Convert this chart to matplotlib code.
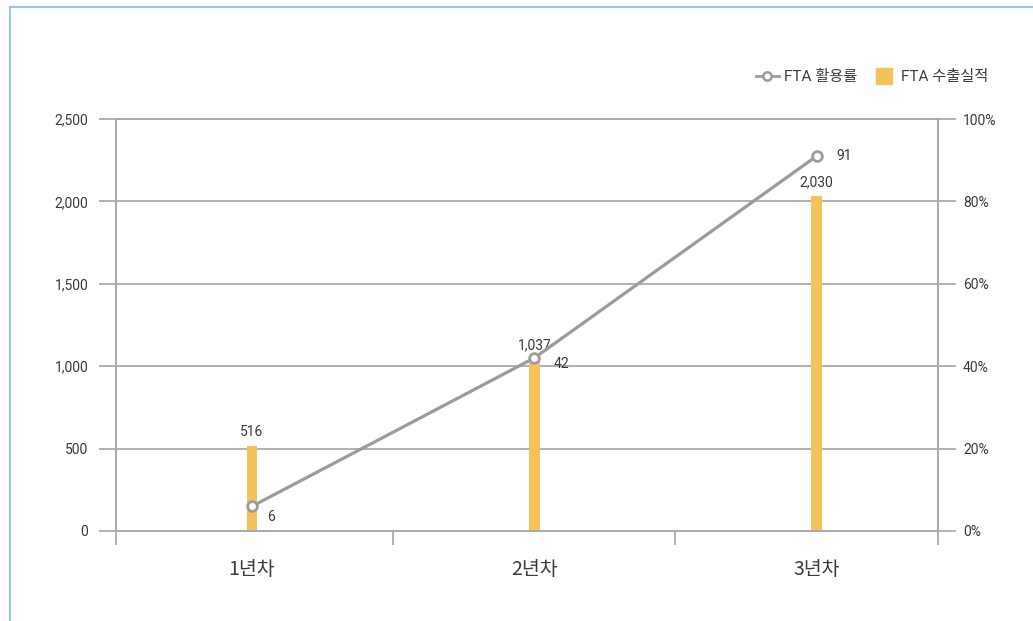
import numpy as np
import matplotlib.pyplot as plt
from matplotlib.lines import Line2D

# 데이터
categories = ['1년차', '2년차', '3년차']
export_vals = [516, 1037, 2030]      # FTA 수출실적
usage_rate = [6, 42, 91]             # FTA 활용률 (%)
left_ticks = [0, 500, 1000, 1500, 2000, 2500]
right_ticks = [0, 20, 40, 60, 80, 100]

plt.rcParams['font.family'] = ['Roboto', 'Noto Sans CJK KR', 'DejaVu Sans']

grid_c = '#aaaaaa'
txt_c = '#3a3a3a'
bar_c = '#f5c15b'
line_c = '#9b9b9b'

fig = plt.figure(figsize=(10.33, 6.21), dpi=100)
ax = fig.add_axes([116/1033, 90/621, (938-116)/1033, (531-119)/621])
ax2 = ax.twinx()

x = np.arange(len(categories))
ax.bar(x, export_vals, width=0.037, color=bar_c, zorder=2)
xl, xr = -0.482, 2.43
ax.set_xlim(xl, xr)
ax.set_ylim(0, 2500)
ax.set_yticks(left_ticks)
ax.set_yticklabels([f'{v:,}' for v in left_ticks], fontsize=10, color=txt_c)
ax.grid(axis='y', color=grid_c, linewidth=1.3, zorder=0)
ax.tick_params(axis='y', length=12, width=1.3, color=grid_c, pad=8)

ax.set_xticks([xl, 0.5, 1.5, xr])
ax.set_xticklabels([])
ax.tick_params(axis='x', which='major', length=10, width=1.3, color=grid_c)
ax.set_xticks(x, minor=True)
ax.set_xticklabels(categories, minor=True, fontsize=14, color=txt_c,
                   family=['Noto Sans CJK KR', 'DejaVu Sans'])
ax.tick_params(axis='x', which='minor', length=0, pad=20)

for a in (ax, ax2):
    for s in a.spines.values():
        s.set_color(grid_c)
        s.set_linewidth(1.3)

for xi, v in zip(x, export_vals):
    ax.text(xi, v + 45, f'{v:,}', ha='center', va='bottom', fontsize=10, color=txt_c)

ax2.plot(x, usage_rate, color=line_c, linewidth=2.3, marker='o', markersize=7,
         markerfacecolor='white', markeredgecolor=line_c, markeredgewidth=2, zorder=3)
ax2.set_ylim(0, 100)
ax2.set_yticks(right_ticks)
ax2.set_yticklabels([f'{v}%' for v in right_ticks], fontsize=10, color=txt_c)
ax2.tick_params(axis='y', length=13, width=1.3, color=grid_c, pad=5)

offsets = [(11, -8), (14, -4), (14, 0)]
for xi, v, off in zip(x, usage_rate, offsets):
    ax2.annotate(f'{v}', (xi, v), xytext=off, textcoords='offset points',
                 ha='left', va='center', fontsize=10, color=txt_c)

handles = [Line2D([0], [0], color=line_c, linewidth=2, marker='o', markersize=6,
                  markerfacecolor='white', markeredgewidth=1.8),
           Line2D([0], [0], linestyle='none', marker='s', markersize=11,
                  color=bar_c)]
fig.legend(handles, ['FTA 활용률', 'FTA 수출실적'], loc='upper right',
           bbox_to_anchor=(1002/1033, 1 - 56/621), ncol=2, frameon=False,
           prop={'size': 11}, labelcolor=txt_c, handlelength=1.5,
           handletextpad=0.35, columnspacing=1.0)

# 테두리
fig.add_artist(Line2D([10/1033, 1], [1 - 7/621, 1 - 7/621], color='#7dbcd9', linewidth=1.2))
fig.add_artist(Line2D([10/1033, 10/1033], [0, 1 - 7/621], color='#7dbcd9', linewidth=1.2))

fig.savefig('out.png', dpi=100)
